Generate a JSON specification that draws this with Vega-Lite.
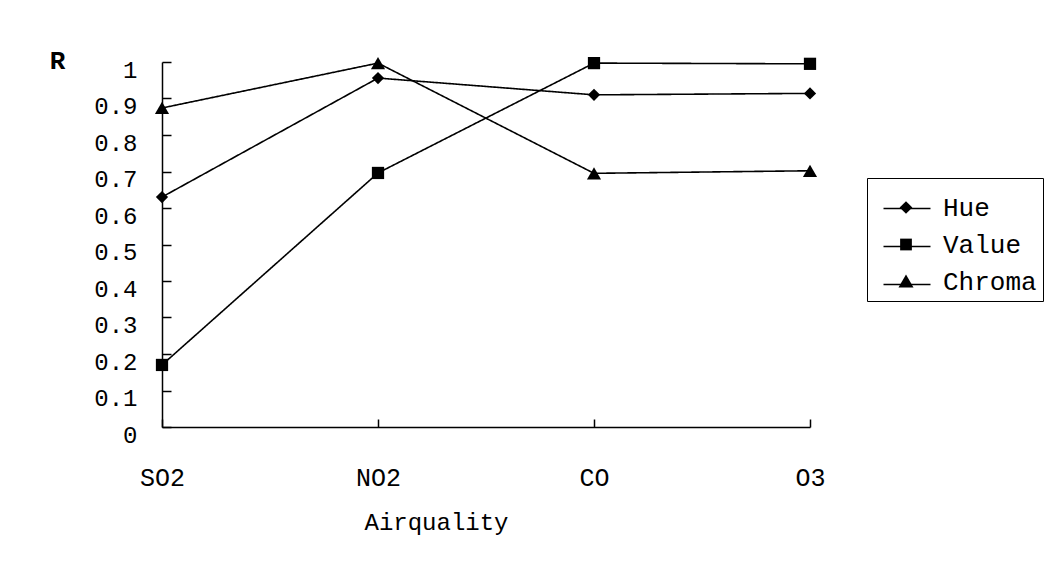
{
  "$schema": "https://vega.github.io/schema/vega-lite/v6.json",
  "autosize": "none",
  "width": 648,
  "height": 365,
  "padding": {"left": 162, "top": 62, "right": 249, "bottom": 134},
  "background": "white",
  "config": {
    "view": {"stroke": null},
    "font": "Liberation Mono",
    "axis": {"grid": false, "domainColor": "black", "tickColor": "black", "domainWidth": 1.5, "tickWidth": 1.5, "labelColor": "black", "titleColor": "black", "labelFont": "Liberation Mono", "titleFont": "Liberation Mono"}
  },
  "data": {
    "values": [
      {"pollutant": "SO2", "series": "Hue", "R": 0.63},
      {"pollutant": "NO2", "series": "Hue", "R": 0.956},
      {"pollutant": "CO", "series": "Hue", "R": 0.91},
      {"pollutant": "O3", "series": "Hue", "R": 0.914},
      {"pollutant": "SO2", "series": "Value", "R": 0.17},
      {"pollutant": "NO2", "series": "Value", "R": 0.696},
      {"pollutant": "CO", "series": "Value", "R": 0.997},
      {"pollutant": "O3", "series": "Value", "R": 0.995},
      {"pollutant": "SO2", "series": "Chroma", "R": 0.874},
      {"pollutant": "NO2", "series": "Chroma", "R": 0.997},
      {"pollutant": "CO", "series": "Chroma", "R": 0.695},
      {"pollutant": "O3", "series": "Chroma", "R": 0.702}
    ]
  },
  "encoding": {
    "x": {
      "field": "pollutant", "type": "nominal",
      "scale": {"type": "point", "domain": ["SO2", "NO2", "CO", "O3"], "padding": 0},
      "axis": {
        "title": "Airquality", "labelAngle": 0, "labelFontSize": 25, "labelBaseline": "middle", "labelPadding": 58,
        "tickSize": -8, "titleFontSize": 24, "titleFontWeight": "normal", "titleX": 274, "titleY": 95,
        "titleAlign": "center", "titleBaseline": "middle"
      }
    },
    "y": {
      "field": "R", "type": "quantitative",
      "scale": {"domain": [0, 1], "nice": false, "zero": true},
      "axis": {
        "title": "R", "values": [0, 0.1, 0.2, 0.3, 0.4, 0.5, 0.6, 0.7, 0.8, 0.9, 1], "format": ".1~f",
        "labelFontSize": 24, "labelPadding": 34, "tickSize": -9, "labelOffset": 8,
        "titleAngle": 0, "titleX": -105, "titleY": -2, "titleAlign": "center", "titleBaseline": "middle",
        "titleFontSize": 26, "titleFontWeight": "bold"
      }
    }
  },
  "layer": [
    {
      "mark": {"type": "line", "color": "black", "strokeWidth": 1.6},
      "encoding": {
        "strokeDash": {
          "field": "series", "type": "nominal", "sort": ["Hue", "Value", "Chroma"],
          "scale": {"range": [[1, 0], [1, 0], [1, 0]]},
          "legend": {
            "title": null, "orient": "none", "legendX": 705, "legendY": 116, "padding": 6,
            "symbolSize": 2209, "symbolStrokeColor": "black", "symbolStrokeWidth": 1.5, "symbolType": "stroke",
            "symbolOffset": 9.5, "labelOffset": 13.5, "labelFont": "Liberation Mono", "labelFontSize": 26, "labelColor": "transparent", "labelExpr": "''", "rowPadding": -11
          }
        }
      }
    },
    {
      "transform": [{"filter": "datum.series === 'Hue'"}],
      "mark": {"type": "point", "filled": true, "color": "black", "opacity": 1, "shape": "diamond", "size": 150},
      "encoding": {}
    },
    {
      "transform": [{"filter": "datum.series === 'Value'"}],
      "mark": {"type": "point", "filled": true, "color": "black", "opacity": 1, "shape": "square", "size": 150},
      "encoding": {}
    },
    {
      "transform": [{"filter": "datum.series === 'Chroma'"}],
      "mark": {"type": "point", "filled": true, "color": "black", "opacity": 1, "shape": "triangle-up", "size": 200},
      "encoding": {}
    },
    {
      "mark": {"type": "point", "filled": true, "fill": "black", "fillOpacity": 0, "strokeOpacity": 0},
      "encoding": {
        "shape": {
          "field": "series", "type": "nominal",
          "scale": {"domain": ["Hue", "Value", "Chroma"], "range": ["M0,-0.27L0.27,0L0,0.27L-0.27,0Z", "M-0.25,-0.25L0.25,-0.25L0.25,0.25L-0.25,0.25Z", "M0,-0.3L0.32,0.26L-0.32,0.26Z"]},
          "legend": {
            "title": null, "orient": "none", "legendX": 705, "legendY": 116,
            "strokeColor": "black", "padding": 6,
            "symbolSize": 2209, "symbolFillColor": "black", "symbolStrokeColor": "black", "symbolStrokeWidth": 0, "symbolOpacity": 1,
            "symbolOffset": 9.5, "labelOffset": 13.5, "labelFont": "Liberation Mono", "labelFontSize": 26, "labelColor": "black", "rowPadding": -11,
            "encode": {
              "symbols": {"update": {"fill": {"value": "black"}, "opacity": {"value": 1}, "fillOpacity": {"value": 1}}}
            }
          }
        }
      }
    }
  ]
}
